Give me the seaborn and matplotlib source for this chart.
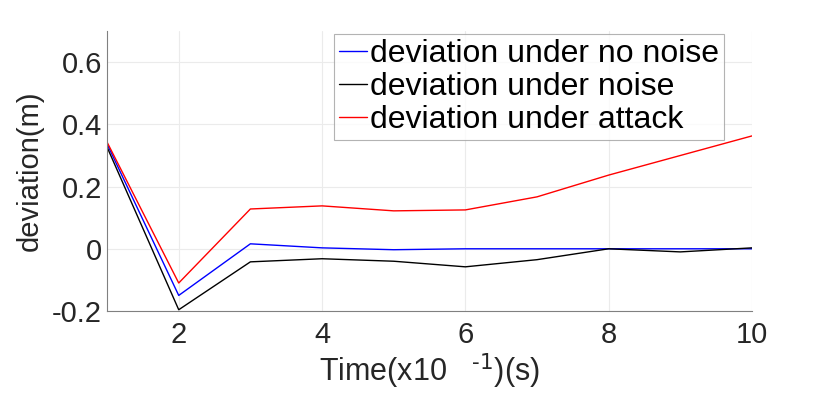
import numpy as np
import pandas as pd
import matplotlib
matplotlib.use("Agg")
import matplotlib.pyplot as plt
import seaborn as sns

# values
time = [1, 2, 3, 4, 5, 6, 7, 8, 9, 10]
no_noise = [0.337, -0.150, 0.016, 0.003, -0.003, 0.0, 0.0, 0.0, 0.0, 0.0]
noise = [0.327, -0.196, -0.042, -0.032, -0.040, -0.058, -0.035, 0.0, -0.010, 0.003]
attack = [0.343, -0.110, 0.128, 0.138, 0.122, 0.125, 0.167, 0.237, 0.300, 0.363]

labels = ["deviation under no noise", "deviation under noise", "deviation under attack"]
colors = ["#0000ff", "#000000", "#ff0000"]

df = pd.DataFrame({"time": time, labels[0]: no_noise, labels[1]: noise, labels[2]: attack})
long_df = df.melt(id_vars="time", var_name="series", value_name="deviation")

sns.set_theme(style="white")
plt.rcParams.update({"font.family": ["Liberation Sans", "DejaVu Sans"]})

fig = plt.figure(figsize=(8.3, 3.99), dpi=100)
ax = fig.add_axes([0.129, 0.2206, 0.777, 0.7014])

sns.lineplot(data=long_df, x="time", y="deviation", hue="series",
             palette=dict(zip(labels, colors)), linewidth=1.0, ax=ax)

ax.set_xlim(1, 10)
ax.set_ylim(-0.2, 0.7)
ax.set_xticks([2, 4, 6, 8, 10])
ax.set_yticks([-0.2, 0, 0.2, 0.4, 0.6])
ax.set_yticklabels(["-0.2", "0", "0.2", "0.4", "0.6"])
ax.grid(True, color="#ebebeb", linewidth=0.8)
ax.tick_params(axis="both", labelsize=21, colors="#262626", length=4, direction="in")
ax.tick_params(axis="x", pad=7)
for side in ["top", "right"]:
    ax.spines[side].set_visible(False)
for side in ["left", "bottom"]:
    ax.spines[side].set_color("#808080")
    ax.spines[side].set_linewidth(0.8)

ax.set_xlabel(r"Time(x10   $^{\text{-1}}$)(s)", fontsize=22, color="#262626", labelpad=2)
ax.set_ylabel("deviation(m)", fontsize=21, color="#262626", labelpad=6)

leg = ax.legend(loc="upper right", bbox_to_anchor=(0.957, 0.989), fontsize=23,
                frameon=True, fancybox=False, handlelength=0.9, handletextpad=0.1,
                borderpad=0.15, labelspacing=0.1, borderaxespad=0.0)
leg.get_frame().set_edgecolor("#a0a0a0")
leg.get_frame().set_linewidth(0.8)
for t in leg.get_texts():
    t.set_color("black")

fig.savefig("out.png", dpi=100)
